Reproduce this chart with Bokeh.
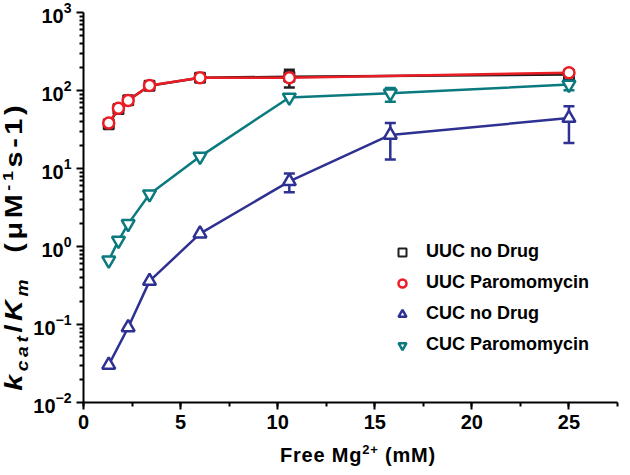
from bokeh.plotting import figure
from bokeh.models import (Range1d, SingleIntervalTicker, FixedTicker, Whisker, TeeHead,
                          ColumnDataSource, Legend, LegendItem, Div)
from bokeh.layouts import row, column
from bokeh.embed import file_html
from bokeh.resources import INLINE

# ---------------- data ----------------
mg_uuc = [1.3, 1.8, 2.3, 3.4, 6.0, 10.6, 25.0]
uuc_nodrug = [37.0, 58.0, 75.0, 115.0, 146.0, 150.0, 160.0]
uuc_paro = [38.2, 59.2, 74.7, 115.6, 146.0, 146.0, 169.0]

mg_cuc_nd = [1.3, 2.3, 3.4, 6.0, 10.6, 15.8, 25.0]
cuc_nodrug = [0.0303, 0.0916, 0.36, 1.46, 6.84, 26.9, 44.3]

mg_cuc_p = [1.3, 1.8, 2.3, 3.4, 6.0, 10.6, 15.8, 25.0]
cuc_paro = [0.665, 1.19, 1.95, 4.69, 14.2, 81.5, 92.0, 119.0]

# error bars (x, lower, upper)
err_uuc_nd_x = [10.6]
err_uuc_nd_lo = [109.0]
err_uuc_nd_hi = [185.0]
err_cuc_nd_x = [10.6, 15.8, 25.0]
err_cuc_nd_lo = [4.97, 13.0, 21.3]
err_cuc_nd_hi = [8.65, 38.2, 62.7]
err_cuc_p_x = [15.8, 25.0]
err_cuc_p_lo = [72.0, 101.0]
err_cuc_p_hi = [108.0, 138.0]

legend_labels = ["UUC no Drug", "UUC Paromomycin", "CUC no Drug", "CUC Paromomycin"]
y_major = [0.01, 0.1, 1, 10, 100, 1000]
x_range = (0, 27.5)
SUP = "font-size:13px; line-height:0"
SUB = "font-size:16px; line-height:0"
x_label_html = f"Free Mg<sup style='{SUP}'>2+</sup> (mM)"
y_label_html = (f"<i>k</i><sub style='{SUB}'><i>cat</i></sub>/<i>K</i>"
                f"<sub style='{SUB}'><i>m</i></sub>&nbsp;&nbsp;(μM"
                f"<sup style='font-size:15px; line-height:0'>-1</sup>s-1)")

BLACK = "#231f20"
RED = "#ec1c24"
BLUE = "#2e3192"
TEAL = "#0b7a7e"
FONT = "Liberation Sans"

YW = 30      # width of the y-label column
FH = 434     # figure height

p = figure(width=622 - YW, height=FH, x_range=Range1d(*x_range),
           y_range=Range1d(y_major[0], y_major[-1]), y_axis_type="log",
           output_backend="svg", toolbar_location=None,
           min_border_left=83 - YW, min_border_right=5, min_border_top=12,
           min_border_bottom=32, margin=0)
p.outline_line_color = None
p.grid.visible = False
p.background_fill_color = "white"

minor = []
for d in y_major[:-1]:
    for m in range(2, 10):
        minor.append(d * m)
p.yaxis.ticker = FixedTicker(ticks=y_major, minor_ticks=minor)
p.xaxis.ticker = SingleIntervalTicker(interval=5, num_minor_ticks=2)

for ax in (p.xaxis[0], p.yaxis[0]):
    ax.axis_line_width = 2
    ax.axis_line_color = "black"
    ax.major_tick_line_width = 2
    ax.minor_tick_line_width = 2
    ax.major_tick_line_color = "black"
    ax.minor_tick_line_color = "black"
    ax.major_tick_in = 0
    ax.major_tick_out = 7
    ax.minor_tick_in = 0
    ax.minor_tick_out = 4
    ax.major_label_text_font = FONT
    ax.major_label_text_font_size = "20px"
    ax.major_label_text_font_style = "bold"
    ax.major_label_text_color = "black"
    ax.major_label_standoff = 5

# error bars
def add_err(xs, lo, hi, color):
    src = ColumnDataSource(dict(x=xs, lo=lo, hi=hi))
    w = Whisker(base="x", lower="lo", upper="hi", source=src,
                line_color=color, line_width=2.5, level="underlay",
                upper_head=TeeHead(size=11, line_color=color, line_width=2.5),
                lower_head=TeeHead(size=11, line_color=color, line_width=2.5))
    p.add_layout(w)

add_err(err_uuc_nd_x, err_uuc_nd_lo, err_uuc_nd_hi, BLACK)
add_err(err_cuc_nd_x, err_cuc_nd_lo, err_cuc_nd_hi, BLUE)
add_err(err_cuc_p_x, err_cuc_p_lo, err_cuc_p_hi, TEAL)

p.line(mg_uuc, uuc_nodrug, line_color=BLACK, line_width=2.5)
r_sq = p.scatter(mg_uuc, uuc_nodrug, marker="square", size=10, line_color=BLACK,
                 fill_color="white", line_width=2)
p.line(mg_uuc, uuc_paro, line_color=RED, line_width=2.5)
r_ci = p.scatter(mg_uuc, uuc_paro, marker="circle", size=11, line_color=RED,
                 fill_color="white", line_width=2.5)
p.line(mg_cuc_nd, cuc_nodrug, line_color=BLUE, line_width=2.5)
r_tu = p.scatter(mg_cuc_nd, cuc_nodrug, marker="triangle", size=13, line_color=BLUE,
                 fill_color="white", line_width=2.5)
p.line(mg_cuc_p, cuc_paro, line_color=TEAL, line_width=2.5)
r_td = p.scatter(mg_cuc_p, cuc_paro, marker="inverted_triangle", size=13, line_color=TEAL,
                 fill_color="white", line_width=2.5)

legend = Legend(items=[LegendItem(label=l, renderers=[r]) for l, r in
                       zip(legend_labels, [r_sq, r_ci, r_tu, r_td])],
                location=(309, 47), padding=0, margin=0, spacing=10,
                glyph_width=20, glyph_height=20, label_height=20,
                label_standoff=14, label_text_font=FONT,
                label_text_font_size="18px", label_text_font_style="bold",
                label_text_color="black", border_line_color=None,
                background_fill_alpha=0)
p.add_layout(legend)

ydiv = Div(text=(f"<div style=\"position:relative; width:{YW}px; height:{FH}px;\">"
                 f"<div style=\"position:absolute; left:0; top:0; width:{FH}px; height:{YW}px;"
                 f"transform-origin:0 0; transform:translate(0px,{FH}px) rotate(-90deg) scaleX(1.2);"
                 "box-sizing:border-box; padding-left:36px; padding-top:4px; text-align:left;"
                 "font-family:'Liberation Sans'; font-weight:bold; font-size:24px;"
                 "letter-spacing:3px; color:black; white-space:nowrap; line-height:19px;\">"
                 + y_label_html + "</div></div>"),
           width=YW, height=FH, margin=0)

xdiv = Div(text=("<div style=\"width:622px; box-sizing:border-box; padding-left:94px;"
                 "padding-top:10px; text-align:center; font-family:'Liberation Sans';"
                 "font-weight:bold; font-size:20px; letter-spacing:0.8px; color:black;"
                 "white-space:nowrap; line-height:22px;\">" + x_label_html + "</div>"),
           width=622, height=32, margin=0)

layout = column(row(ydiv, p, spacing=0, margin=0), xdiv, spacing=0, margin=0)

open("out.html", "w").write(file_html(layout, INLINE))
